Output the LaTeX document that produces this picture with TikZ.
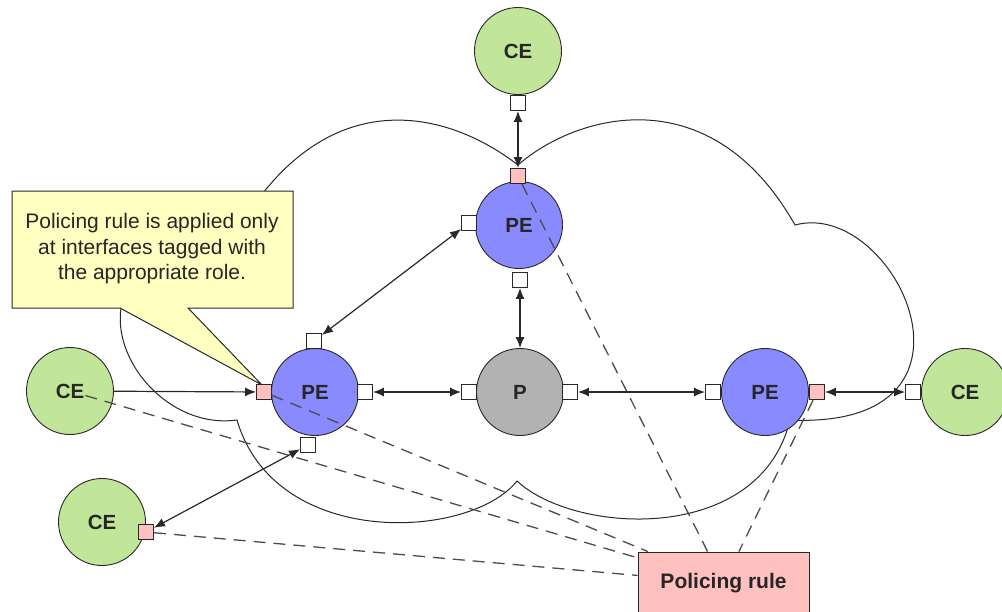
\documentclass[tikz,border=0pt]{standalone}
\usepackage{fontspec}
\setmainfont{Liberation Sans}
\usetikzlibrary{arrows.meta}
\usepackage{xcolor}
\definecolor{cegreen}{RGB}{194,230,153}
\definecolor{peblue}{RGB}{138,138,255}
\definecolor{pgrey}{RGB}{178,178,178}
\definecolor{rolepink}{RGB}{255,192,192}
\definecolor{noteyellow}{RGB}{255,255,192}
\definecolor{edge}{RGB}{40,40,40}

\begin{document}
\begin{tikzpicture}[x=1pt, y=-1pt, >={Latex[length=11pt,width=9pt]},
    router/.style={circle, draw=edge, line width=0.9pt, minimum size=87pt, inner sep=0pt, text=black!85, font=\fontsize{20.5}{24}\selectfont\bfseries},
    ce/.style={router, fill=cegreen},
    pe/.style={router, fill=peblue},
    core/.style={router, fill=pgrey},
    port/.style={draw=edge, line width=0.9pt, fill=white, minimum size=15pt, inner sep=0pt},
    roleport/.style={port, fill=rolepink},
    link/.style={draw=edge, line width=1.2pt},
    tagline/.style={draw=black!70, line width=1.3pt, dash pattern=on 12pt off 8pt},
    cloudline/.style={draw=edge, line width=1pt}]
    \useasboundingbox (0,0) rectangle (1002,611);

            % provider network
            \draw[cloudline] (235,235) .. controls (320,85) and (440,105) .. (518,165)
                .. controls (575,115) and (710,75) .. (795,225)
                .. controls (895,198) and (1005,430) .. (790,420)
                .. controls (760,545) and (575,535) .. (517,481)
                .. controls (470,540) and (275,550) .. (237,420)
                .. controls (130,435) and (40,250) .. cycle;

            % note
            \draw[draw=edge, line width=1pt, fill=noteyellow] (12,191) -- (293,191) -- (293,308) -- (188,308) -- (262,385) -- (120,308) -- (12,308) -- cycle;
            \node[align=center, text=black!85, font=\fontsize{21}{25.5}\selectfont] (note) at (152,249) {Policing rule is applied only\\at interfaces tagged with\\the appropriate role.};

            % routers
            \node[ce] (cet) at (518,51) {CE};
            \node[pe] (pet) at (519,225) {PE};
            \node[core] (pc) at (520,392) {P};
            \node[pe] (pel) at (315,392) {PE};
            \node[pe] (per) at (765,392) {PE};
            \node[ce] (cel) at (70,391) {CE};
            \node[ce] (ceb) at (102,522) {CE};
            \node[ce] (cer) at (965,392) {CE};

            % interfaces
            \node[port] (cet-s) at (518,103) {};
            \node[roleport] (pet-n) at (518,176) {};
            \node[port] (pet-w) at (469,223) {};
            \node[port] (pet-s) at (520,280) {};
            \node[roleport] (pel-w) at (264,392) {};
            \node[port] (pel-e) at (365,392) {};
            \node[port] (pel-n) at (314,341) {};
            \node[port] (pel-s) at (308,445) {};
            \node[port] (pc-w) at (469,392) {};
            \node[port] (pc-e) at (570,392) {};
            \node[port] (per-w) at (713,392) {};
            \node[roleport] (per-e) at (817,392) {};
            \node[port] (cer-w) at (913,392) {};
            \node[roleport] (ceb-e) at (146,532) {};

            \node[draw=edge, line width=1pt, fill=rolepink, minimum width=171pt, minimum height=62pt, text=black!85, font=\fontsize{21}{25}\selectfont\bfseries] (rule) at (723.5,583) {Policing rule};

            % role tags
            \draw[tagline] (pet-n) -- (rule);
            \draw[tagline] (per-e) -- (rule);
            \draw[tagline] (pel-w) -- (rule);
            \draw[tagline, shorten <=16pt] (cel.center) -- (rule);
            \draw[tagline] (ceb-e) -- (rule);

            % links
            \draw[link,<->] (cet-s) -- (pet-n);
            \draw[link,<->] (pet-w) -- (pel-n);
            \draw[link,<->] (pet-s) -- (pc);
            \draw[link,->] (cel) -- (pel-w);
            \draw[link,<->] (pel-e) -- (pc-w);
            \draw[link,<->] (pc-e) -- (per-w);
            \draw[link,<->] (per-e) -- (cer-w);
            \draw[link,<->] (pel-s) -- (ceb-e);
        \end{tikzpicture}
\end{document}
